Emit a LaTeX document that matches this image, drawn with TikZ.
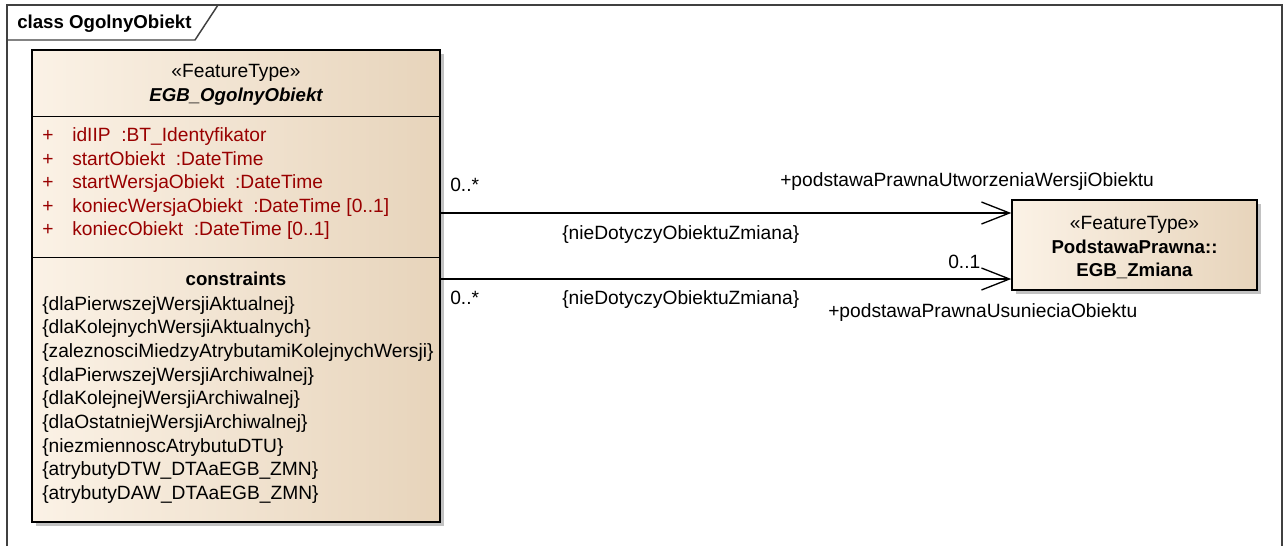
\documentclass[tikz,border=0pt]{standalone}
\usepackage{fontspec}
\setmainfont{Liberation Sans}
\usetikzlibrary{arrows.meta,shadows}
\definecolor{boxleft}{HTML}{FBF2E6}
\definecolor{boxright}{HTML}{E7D4BB}
\definecolor{attrred}{HTML}{990000}
\definecolor{framegray}{HTML}{404040}
\begin{document}
\begin{tikzpicture}[
    x=0.75pt, y=-0.75pt,
    every node/.style={font=\fontsize{14.4}{18}\selectfont},
    classbox/.style={draw, line width=1.1pt, left color=boxleft, right color=boxright,
        drop shadow={shadow xshift=3pt, shadow yshift=-3pt, fill=black!40, opacity=.6}},
    lbl/.style={inner sep=0pt, text height=10.3pt, text depth=0pt, anchor=west},
    mid/.style={lbl, anchor=center},
    attr/.style={lbl, text=attrred},
    assoc/.style={line width=1pt, -{Straight Barb[length=21pt, width=16.5pt, line width=1pt]}}
]
    \useasboundingbox (0,0) rectangle (1284,546);

    % frame with its title tab
    \draw[framegray, line width=1.1pt] (7,546) -- (7,5) -- (1282,5) -- (1282,546);
    \draw[framegray, line width=1.1pt] (7,40) -- (195,40) -- (218,5);
    \node[lbl, font=\fontsize{14}{18}\selectfont\bfseries] (title) at (17,22) {class OgolnyObiekt};

    % classes
    \node[classbox, minimum width=306pt, minimum height=354pt] (obiekt) at (236,286) {};
    \node[classbox, minimum width=183.75pt, minimum height=67.5pt] (zmiana) at (1134.5,245) {};

    % compartments of EGB_OgolnyObiekt
    \draw[line width=1.1pt] ([yshift=-50.25pt]obiekt.north west) -- ([yshift=-50.25pt]obiekt.north east);
    \draw[line width=1.1pt] ([yshift=-156pt]obiekt.north west) -- ([yshift=-156pt]obiekt.north east);

    \node[mid] (ster1) at (236,71) {«FeatureType»};
    \node[mid, font=\fontsize{14}{18}\selectfont\bfseries\itshape] (name1) at (236,95) {EGB\_OgolnyObiekt};

    \node[attr] (p1) at (42,135) {+};
    \node[attr] (a1) at (72,135) {idIIP~ :BT\_Identyfikator};
    \node[attr] (p2) at (42,158.5) {+};
    \node[attr] (a2) at (72,158.5) {startObiekt~ :DateTime};
    \node[attr] (p3) at (42,182) {+};
    \node[attr] (a3) at (72,182) {startWersjaObiekt~ :DateTime};
    \node[attr] (p4) at (42,205.5) {+};
    \node[attr] (a4) at (72,205.5) {koniecWersjaObiekt~ :DateTime [0..1]};
    \node[attr] (p5) at (42,229) {+};
    \node[attr] (a5) at (72,229) {koniecObiekt~ :DateTime [0..1]};

    \node[mid, font=\fontsize{14}{18}\selectfont\bfseries] (constr) at (236,279) {constraints};
    \node[lbl] (c1) at (42,303.3) {\{dlaPierwszejWersjiAktualnej\}};
    \node[lbl] (c2) at (42,327) {\{dlaKolejnychWersjiAktualnych\}};
    \node[lbl] (c3) at (42,350.7) {\{zaleznosciMiedzyAtrybutamiKolejnychWersji\}};
    \node[lbl] (c4) at (42,374.3) {\{dlaPierwszejWersjiArchiwalnej\}};
    \node[lbl] (c5) at (42,398) {\{dlaKolejnejWersjiArchiwalnej\}};
    \node[lbl] (c6) at (42,421.7) {\{dlaOstatniejWersjiArchiwalnej\}};
    \node[lbl] (c7) at (42,445.3) {\{niezmiennoscAtrybutuDTU\}};
    \node[lbl] (c8) at (42,469) {\{atrybutyDTW\_DTAaEGB\_ZMN\}};
    \node[lbl] (c9) at (42,492.7) {\{atrybutyDAW\_DTAaEGB\_ZMN\}};

    % EGB_Zmiana
    \node[mid] (ster2) at (1134.5,222.7) {«FeatureType»};
    \node[mid, font=\fontsize{14}{18}\selectfont\bfseries] (name2a) at (1134.5,246.7) {PodstawaPrawna::};
    \node[mid, font=\fontsize{14}{18}\selectfont\bfseries] (name2b) at (1134.5,270) {EGB\_Zmiana};

    % associations
    \coordinate (utw) at ([yshift=24pt]zmiana.west);
    \coordinate (usu) at ([yshift=-25.5pt]zmiana.west);
    \draw[assoc] (obiekt.east |- utw) -- (utw);
    \draw[assoc] (obiekt.east |- usu) -- (usu);

    \node[lbl] (m1) at (450,185) {0..*};
    \node[lbl] (k1) at (562,233) {\{nieDotyczyObiektuZmiana\}};
    \node[lbl] (r1) at (780,180) {+podstawaPrawnaUtworzeniaWersjiObiektu};
    \node[lbl] (m2) at (450,298) {0..*};
    \node[lbl] (k2) at (562,298) {\{nieDotyczyObiektuZmiana\}};
    \node[lbl] (n2) at (948,262) {0..1};
    \node[lbl] (r2) at (828,311) {+podstawaPrawnaUsunieciaObiektu};
\end{tikzpicture}
\end{document}
